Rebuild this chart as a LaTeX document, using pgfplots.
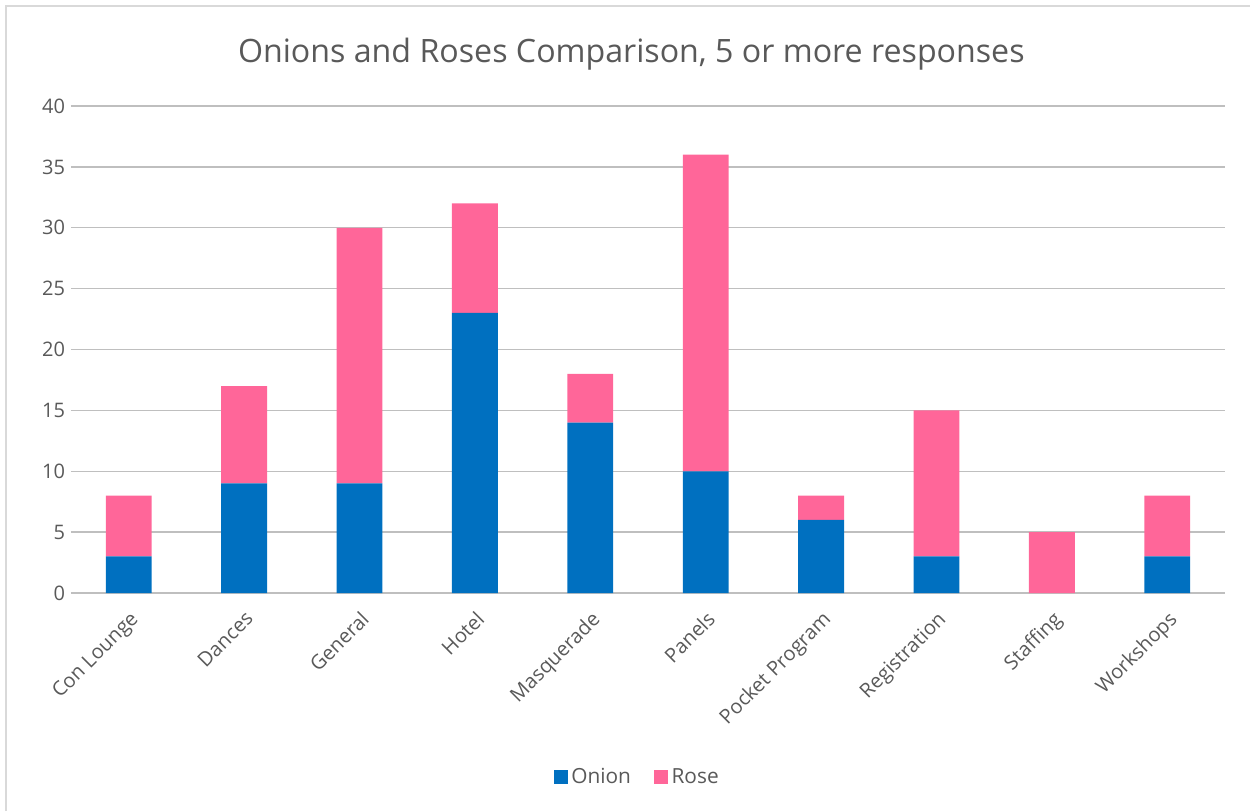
\documentclass[border=0pt]{standalone}
\usepackage{fontspec}
\setmainfont{Open Sans}
\usepackage{pgfplots}
\pgfplotsset{compat=1.18}
\definecolor{onion}{HTML}{0070C0}
\definecolor{rose}{HTML}{FF6699}
\definecolor{txt}{HTML}{595959}
\definecolor{grid}{HTML}{D9D9D9}
\begin{document}
\begin{tikzpicture}[x=0.6pt,y=0.6pt]
% page frame: 1250 x 811 px, plot area lower left at px (71,593)
\path[use as bounding box] (-71,-218) rectangle (1179,593);
\draw[grid,line width=1.2pt] (-65,-218) -- (-65,587) -- (1179,587);
\begin{axis}[
  at={(0,0)}, anchor=south west,
  scale only axis,
  width=692.4pt, height=292.2pt,
  ybar stacked,
  bar width=27.5pt,
  xmin=-0.5, xmax=9.5,
  ymin=0, ymax=40,
  ytick={0,5,...,40},
  xtick={0,...,9},
  xticklabels={Con Lounge,Dances,General,Hotel,Masquerade,Panels,Pocket Program,Registration,Staffing,Workshops},
  x tick label style={rotate=45,anchor=north east,font=\fontsize{12}{14}\selectfont,text=txt,inner sep=2pt,xshift=-5pt,yshift=-5pt},
  y tick label style={font=\fontsize{12}{14}\selectfont,text=txt},
  /pgf/number format/assume math mode=true,
  ymajorgrids, xmajorgrids=false,
  grid style={grid,line width=0.8pt},
  axis line style={draw=none},
  major tick length=0pt,
  tick style={draw=none},
  title={Onions and Roses Comparison, 5 or more responses},
  title style={font=\fontsize{19.3}{22}\selectfont,text=txt,yshift=12pt,xshift=-10pt},
  legend style={at={(0.5,-0.378)},anchor=center,xshift=-6pt,draw=none,font=\fontsize{12.5}{14}\selectfont,text=txt,legend columns=2,/tikz/every even column/.append style={column sep=12pt}},
  legend image code/.code={\fill[#1] (0pt,-4.2pt) rectangle (8.4pt,4.2pt);},
]
\addplot[fill=onion,draw=none] coordinates {(0,3) (1,9) (2,9) (3,23) (4,14) (5,10) (6,6) (7,3) (8,0) (9,3)};
\addplot[fill=rose,draw=none] coordinates {(0,5) (1,8) (2,21) (3,9) (4,4) (5,26) (6,2) (7,12) (8,5) (9,5)};
\legend{Onion,Rose}
\end{axis}
\end{tikzpicture}
\end{document}
